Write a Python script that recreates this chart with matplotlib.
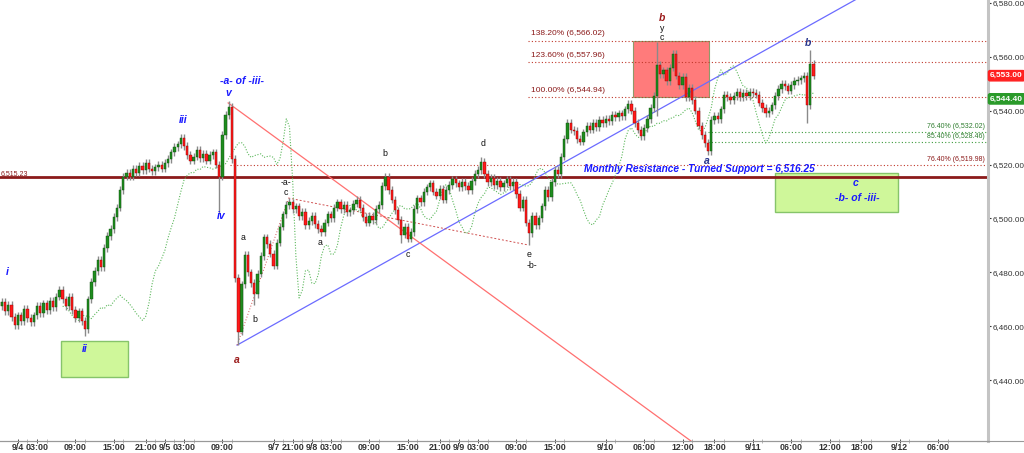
import matplotlib
matplotlib.use("Agg")
import matplotlib.pyplot as plt
from matplotlib.patches import Rectangle
from matplotlib.lines import Line2D
import numpy as np
import pandas as pd

plt.rcParams["font.family"] = ["Liberation Sans", "DejaVu Sans"]

# 30-minute bars, x axis is "trading hours" since 9/4 00:00 (session breaks removed)
bar_times = np.arange(-3.0, 125.0, 0.5)
first_open = 6469.0
closes = [
    6467.5, 6469.0, 6465.5, 6468.0, 6463.5, 6460.5, 6464.0, 6462.0, 6466.5, 6463.0,
    6461.5, 6464.0, 6467.5, 6465.0, 6468.5, 6466.0, 6469.5, 6467.0, 6471.0, 6473.5,
    6470.0, 6467.5, 6471.0, 6466.0, 6463.0, 6465.5, 6462.0, 6459.0, 6470.0, 6476.5,
    6480.5, 6484.5, 6482.0, 6489.0, 6493.5, 6496.0, 6500.5, 6504.0, 6510.5, 6515.5,
    6517.0, 6515.5, 6518.5, 6517.0, 6519.5, 6518.0, 6520.5, 6518.5, 6517.5, 6519.0,
    6520.0, 6518.5, 6520.5, 6522.0, 6524.5, 6526.5, 6527.5, 6530.0, 6527.0, 6523.5,
    6521.5, 6523.0, 6525.5, 6522.5, 6524.0, 6521.5, 6523.5, 6524.5, 6520.0, 6515.5,
    6531.0, 6538.5, 6541.5, 6522.0, 6478.0, 6458.0, 6475.5, 6486.5, 6480.0, 6476.0,
    6472.0, 6479.5, 6486.0, 6493.0, 6490.5, 6487.0, 6482.5, 6491.0, 6497.0, 6501.5,
    6505.0, 6506.0, 6503.5, 6504.5, 6501.0, 6502.5, 6497.5, 6499.0, 6501.0, 6498.0,
    6496.0, 6495.0, 6498.5, 6501.5, 6500.0, 6504.0, 6506.0, 6503.5, 6505.0, 6502.5,
    6503.0, 6505.5, 6507.0, 6504.0, 6500.5, 6498.5, 6501.0, 6499.5, 6503.5, 6505.0,
    6512.0, 6515.5, 6510.5, 6507.0, 6503.0, 6499.5, 6494.0, 6497.0, 6492.5, 6495.0,
    6503.5, 6507.5, 6506.0, 6510.0, 6511.5, 6513.0, 6510.0, 6508.5, 6511.0, 6507.0,
    6510.5, 6512.5, 6514.5, 6513.0, 6511.5, 6513.5, 6512.0, 6510.5, 6514.0, 6516.5,
    6518.0, 6521.0, 6516.5, 6513.5, 6515.0, 6512.5, 6514.0, 6511.5, 6513.0, 6514.5,
    6512.0, 6513.5, 6509.0, 6504.0, 6507.0, 6498.5, 6494.5, 6501.0, 6497.5, 6500.0,
    6504.5, 6510.5, 6508.0, 6513.5, 6518.0, 6516.5, 6523.0, 6529.5, 6535.5, 6533.0,
    6532.5, 6529.5, 6528.5, 6532.0, 6534.5, 6533.0, 6535.5, 6534.0, 6536.5, 6535.5,
    6537.0, 6536.0, 6538.5, 6537.5, 6539.0, 6538.0, 6540.5, 6542.5, 6540.0, 6535.5,
    6533.0, 6530.5, 6533.5, 6537.0, 6541.0, 6545.5, 6557.0, 6553.5, 6555.0, 6551.0,
    6556.0, 6561.0, 6553.0, 6549.5, 6552.5, 6545.0, 6548.5, 6544.0, 6540.0, 6534.5,
    6531.0, 6528.0, 6525.0, 6536.5, 6538.0, 6537.0, 6540.5, 6546.0, 6545.0, 6544.0,
    6545.5, 6547.0, 6545.0, 6546.5, 6545.5, 6547.0, 6546.5, 6546.0, 6543.0, 6541.0,
    6539.0, 6540.0, 6542.0, 6545.5, 6548.0, 6550.0, 6549.0, 6547.5, 6549.5, 6551.0,
    6551.5, 6552.0, 6553.0, 6542.0, 6557.5, 6553.0,
]
# bars with long wicks: bar index -> extreme
spike_highs = {72: 6543.5, 91: 6507.5, 121: 6517.0, 151: 6523.0, 206: 6565.5,
               211: 6562.5, 254: 6562.5}
spike_lows = {27: 6456.5, 69: 6502.0, 75: 6453.0, 80: 6468.0, 126: 6491.0,
              166: 6490.0, 206: 6538.0, 222: 6523.5, 253: 6535.5}
WICK = 1.4
indicator_last = 6544.40

# x-axis labels (position in trading hours)
tick_pos = [0, 3, 9, 15, 20, 23, 26, 32, 40, 43, 46, 49, 55, 61, 66, 69, 72, 78, 84,
            92, 98, 104, 109, 115, 121, 127, 132, 138, 144]
tick_labels = ["9/4", "03:00", "09:00", "15:00", "21:00", "9/5", "03:00", "09:00",
               "9/7", "21:00", "9/8", "03:00", "09:00", "15:00", "21:00", "9/9", "03:00",
               "09:00", "15:00", "9/10", "06:00", "12:00", "18:00", "9/11", "06:00",
               "12:00", "18:00", "9/12", "06:00"]

support_level = 6515.23
fib_upper = [("138.20%", 6566.02), ("123.60%", 6557.96), ("100.00%", 6544.94)]
fib_green = [("76.40%", 6532.02), ("85.40%", 6528.46)]
fib_lower = ("76.40%", 6519.98)

# wave labels: (text, t, price, colour, style)
BLUE, NAVY, DRED, BLK = "#1a1aff", "#27358c", "#9b1b1b", "#111111"
wave_labels = [
    ("i", -1.7, 6480.0, BLUE, "big"), ("ii", 10.5, 6451.5, BLUE, "big"),
    ("iii", 25.8, 6536.5, BLUE, "big"), ("iv", 31.8, 6501.0, BLUE, "big"),
    ("v", 32.9, 6546.5, BLUE, "big"), ("-a- of -iii-", 35.1, 6551.0, BLUE, "big"),
    ("a", 34.3, 6447.5, DRED, "big"), ("a", 35.2, 6493.0, BLK, "small"),
    ("b", 37.1, 6462.5, BLK, "small"), ("-a-", 41.9, 6513.5, BLK, "small"),
    ("c", 41.9, 6509.5, BLK, "small"), ("a", 47.3, 6491.0, BLK, "small"),
    ("b", 57.4, 6524.0, BLK, "small"), ("c", 61.0, 6486.5, BLK, "small"),
    ("d", 72.8, 6528.0, BLK, "small"), ("e", 80.0, 6486.5, BLK, "small"),
    ("-b-", 80.5, 6482.5, BLK, "small"), ("b", 100.8, 6574.5, DRED, "big"),
    ("y", 100.8, 6570.5, BLK, "small"), ("c", 100.8, 6567.0, BLK, "small"),
    ("a", 107.8, 6521.5, NAVY, "big"), ("b", 123.6, 6565.0, NAVY, "big"),
    ("c", 131.0, 6513.0, BLUE, "big"), ("-b- of -iii-", 131.4, 6507.5, BLUE, "big"),
]

closes = np.array(closes)
opens = np.concatenate([[first_open], closes[:-1]])
highs = np.maximum(opens, closes) + WICK
lows = np.minimum(opens, closes) - WICK
for k, v in spike_highs.items():
    highs[k] = v
for k, v in spike_lows.items():
    lows[k] = v

# displaced moving average (green dotted), cut at the last bar
dma = pd.Series(closes).rolling(3).mean().shift(18).to_numpy()

fig = plt.figure(figsize=(10.24, 4.53), dpi=100)
ax = fig.add_axes([0.0, 12 / 453, 988 / 1024, 441 / 453])
ax.set_xlim(-2.8, 151.8)
ax.set_ylim(6417.4, 6581.1)

# boxes
ax.add_patch(Rectangle((96.2, 6544.94), 11.9, 6566.02 - 6544.94, facecolor="#ff7b7b",
                       edgecolor="#8f9a6a", lw=0.8, zorder=1))
ax.add_patch(Rectangle((6.7, 6441.0), 10.5, 13.6, facecolor="#cff79a",
                       edgecolor="#86c46a", lw=1.0, zorder=1))
ax.add_patch(Rectangle((118.5, 6502.4), 19.2, 14.5, facecolor="#cff79a",
                       edgecolor="#86c46a", lw=1.0, zorder=1))

# support line
ax.axhline(support_level, color="#8b1a1a", lw=2.0, zorder=2)
ax.text(-2.7, support_level + 0.8, "6,515.23", fontsize=5, color="#8b1a1a", zorder=6)
ax.text(106.7, 6518.4, "Monthly Resistance - Turned Support = 6,516.25", color="#1a1aff",
        fontsize=7.3, fontweight="bold", fontstyle="italic", ha="center", va="center",
        zorder=6)

# fib levels
for name, lvl in fib_upper:
    ax.plot([79.8, 151.8], [lvl, lvl], ls=(0, (1, 2)), color="#c0392b", lw=0.8, zorder=2)
    ax.text(80.3, lvl + 1.4, f"{name} ({lvl:,.2f})", fontsize=6, color="#8b1a1a",
            va="bottom", zorder=6)
for name, lvl in fib_green:
    ax.plot([108.0, 151.8], [lvl, lvl], ls=(0, (1, 2)), color="#3d9b3d", lw=0.8, zorder=2)
    ax.text(151.3, lvl + 0.7, f"{name} ({lvl:,.2f})", fontsize=5, color="#2e7d2e",
            ha="right", va="bottom", zorder=6)
ax.plot([33.2, 151.8], [fib_lower[1]] * 2, ls=(0, (1, 2)), color="#c0392b", lw=0.8, zorder=2)
ax.text(151.3, fib_lower[1] + 0.7, f"{fib_lower[0]} ({fib_lower[1]:,.2f})", fontsize=5,
        color="#8b1a1a", ha="right", va="bottom", zorder=6)

# trend lines
ax.plot([34.3, 145.0], [6453.0, 6453.0 + 110.7 * 1.325], color="#6b6bff", lw=0.9, zorder=2)
ax.plot([32.9, 110.0], [6542.9, 6542.9 - 77.1 * 1.733], color="#ff7070", lw=0.9, zorder=2)
ax.plot([42.3, 79.8], [6507.6, 6490.2], ls=(0, (2, 2)), color="#d05050", lw=0.7, zorder=2)
ax.plot([34.3, 42.3], [6453.0, 6507.0], ls=(0, (1, 2)), color="#d05050", lw=0.7, zorder=2)

# green dotted indicator
ax.plot(bar_times, dma, ls=(0, (1, 1.5)), color="#5cb85c", lw=0.8, zorder=3)

# candles
up = closes >= opens
ax.vlines(bar_times, lows, highs, color="#8a8a8a", lw=1.0, zorder=4)
body_h = np.maximum(np.abs(closes - opens), 0.3)
body_b = np.minimum(opens, closes)
ax.bar(bar_times[up], body_h[up], bottom=body_b[up], width=0.36, color="#1e8c1e",
       edgecolor="#0d4d0d", lw=0.3, zorder=5)
ax.bar(bar_times[~up], body_h[~up], bottom=body_b[~up], width=0.36, color="#ff1a1a",
       edgecolor="#8a0000", lw=0.3, zorder=5)

# wave labels
for txt, t, p, col, kind in wave_labels:
    if kind == "big":
        ax.text(t, p, txt, color=col, fontsize=7.5, fontweight="bold", fontstyle="italic",
                ha="center", va="center", zorder=6)
    else:
        ax.text(t, p, txt, color=col, fontsize=6.3, ha="center", va="center", zorder=6)

# axes styling
for s in ["top", "left"]:
    ax.spines[s].set_visible(False)
ax.spines["right"].set_color("#c4c4c4")
ax.spines["right"].set_linewidth(2.2)
ax.spines["bottom"].set_color("#999999")
ax.yaxis.tick_right()
ax.set_yticks(np.arange(6440, 6581, 20))
ax.set_yticklabels([f"{v:,.2f}" for v in np.arange(6440, 6581, 20)])
ax.tick_params(axis="y", labelsize=5.9, colors="#333333", length=2.5, width=0.8, pad=0.5)
ax.set_xticks(tick_pos)
ax.set_xticklabels(tick_labels, fontweight="bold")
ax.set_xticks([p + 1.5 for p in tick_pos], minor=True)
ax.tick_params(axis="x", labelsize=6.4, colors="#333333", length=3, width=0.6, pad=0,
               direction="inout")
ax.tick_params(axis="x", which="minor", length=2.5, width=0.5, colors="#999999",
               direction="inout")
fig.add_artist(Line2D([0, 1], [12 / 453, 12 / 453], color="#999999", lw=0.8))

# price badges
ax.annotate(f"{closes[-1]:,.2f}", xy=(1.0, closes[-1]), xycoords=("axes fraction", "data"),
            xytext=(1.5, 0), textcoords="offset points", fontsize=6.0, fontweight="bold",
            color="white", va="center",
            bbox=dict(boxstyle="round,pad=0.2", fc="#ff2020", ec="#ff2020"))
ax.annotate(f"{indicator_last:,.2f}", xy=(1.0, indicator_last),
            xycoords=("axes fraction", "data"),
            xytext=(1.5, 0), textcoords="offset points", fontsize=6.0, fontweight="bold",
            color="white", va="center",
            bbox=dict(boxstyle="round,pad=0.2", fc="#2a9a2a", ec="#2a9a2a"))

fig.savefig("out.png", dpi=100)
